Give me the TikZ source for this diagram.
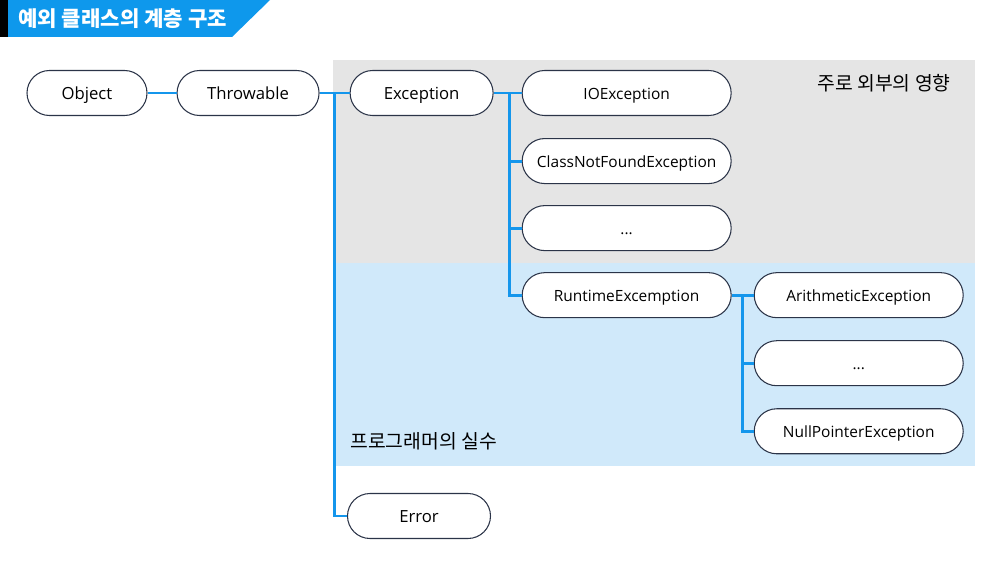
\documentclass[tikz,border=0pt]{standalone}
\usepackage{fontspec}
\setmainfont{Open Sans}
\newfontfamily\kor{Noto Sans CJK KR}
\usetikzlibrary{positioning}

\definecolor{linkblue}{HTML}{1496EC}
\definecolor{titleblue}{HTML}{0E98EC}
\definecolor{outside}{HTML}{E5E5E5}
\definecolor{mistake}{HTML}{D0E9FA}
\definecolor{pillline}{HTML}{2B3448}

\tikzset{
  pill/.style={draw=pillline, line width=0.6pt, fill=white, rounded corners=0.45cm,
    minimum height=0.9cm, inner sep=0pt, text height=0.72em, text depth=0pt,
    font=\fontsize{9.5}{11}\selectfont},
  subpill/.style={pill, minimum width=4.18cm, font=\fontsize{8.8}{10}\selectfont},
  link/.style={draw=linkblue, line width=1.7pt}
}

\begin{document}
\begin{tikzpicture}
\useasboundingbox (0,0) rectangle (20,-11.26);
% title
\fill (0,0) rectangle (0.16,-0.74);
\fill[titleblue] (0.16,0) -- (5.4,0) -- (4.64,-0.74) -- (0.16,-0.74) -- cycle;
\node[anchor=west, text=white, inner sep=0pt] (title) at (0.36,-0.37)
    {\kor\bfseries\fontsize{12}{14}\selectfont 예외 클래스의 계층 구조};

% areas
\fill[outside] (6.66,-1.2) rectangle (19.5,-5.26);
\fill[mistake] (6.66,-5.26) rectangle (19.5,-9.32);
\node[inner sep=0pt] (ext) at (17.68,-1.66)
    {\kor\fontsize{11}{13}\selectfont 주로 외부의 영향};
\node[anchor=west, inner sep=0pt] (prg) at (7.0,-8.82)
    {\kor\fontsize{11}{13}\selectfont 프로그래머의 실수};

% nodes
\node[pill, minimum width=2.4cm] (obj) at (1.74,-1.86) {Object};
\node[pill, minimum width=2.84cm, right=0.58cm of obj] (thr) {Throwable};
\node[pill, minimum width=2.86cm, right=0.6cm of thr] (exc) {Exception};
\node[pill, minimum width=2.86cm] (err) at (8.38,-10.32) {Error};

\node[subpill, right=0.56cm of exc] (io) {IOException};
\node[subpill, below=0.44cm of io] (cnf) {ClassNotFoundException};
\node[subpill, below=0.42cm of cnf] (etc1) {...};
\node[subpill, below=0.42cm of etc1] (rt) {RuntimeExcemption};

\node[subpill, right=0.44cm of rt] (ari) {ArithmeticException};
\node[subpill, below=0.44cm of ari] (etc2) {...};
\node[subpill, below=0.44cm of etc2] (np) {NullPointerException};

\coordinate[right=0.3cm of thr] (tj);
\coordinate[right=0.32cm of exc] (ej);
\coordinate[right=0.22cm of rt] (rj);

% connectors
\draw[link]
    (obj) -- (thr)
    (thr) -- (exc)
    (tj) |- (err)
    (exc) -- (io)
    (ej) |- (cnf)
    (ej) |- (etc1)
    (ej) |- (rt)
    (rt) -- (ari)
    (rj) |- (etc2)
    (rj) |- (np)
    ;
\end{tikzpicture}
\end{document}
